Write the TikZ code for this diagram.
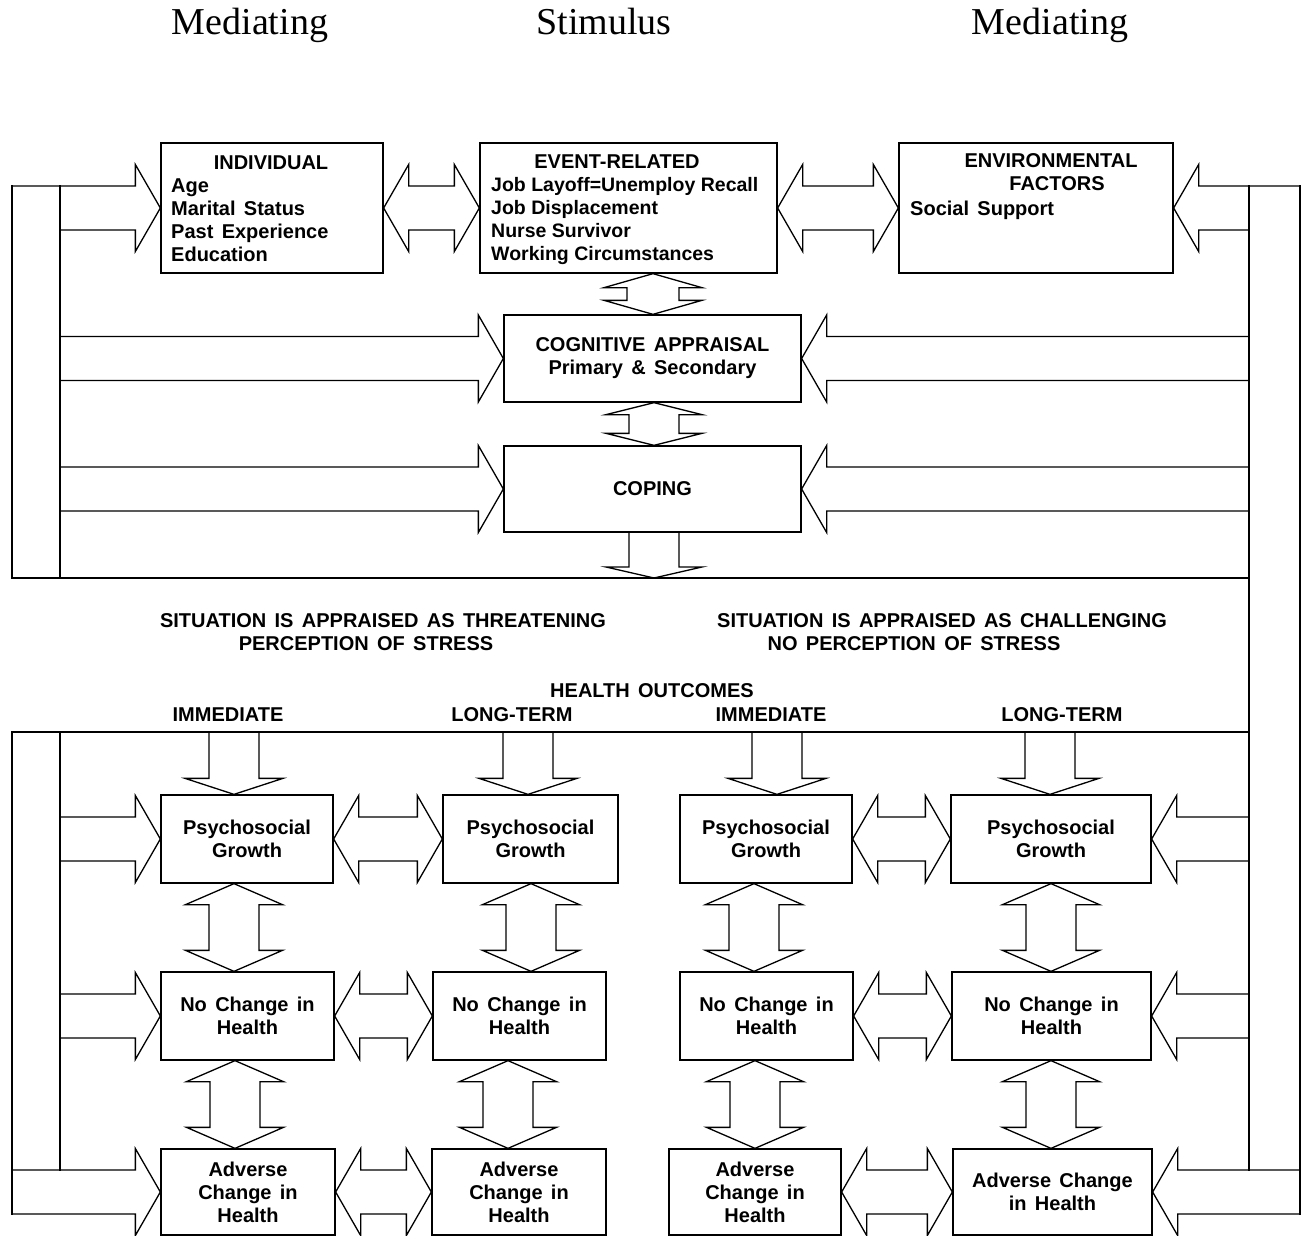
\documentclass[tikz,border=0pt]{standalone}
\usepackage{fontspec}
\setmainfont{Liberation Sans}[WordSpace=1.5]
\newfontfamily\plainsans{Liberation Sans}
\newfontfamily\titlefont{Liberation Serif}
\usetikzlibrary{calc}
\tikzset{
  box/.style={draw, line width=1.3pt, inner sep=0pt, align=center,
    font=\bfseries\fontsize{20}{23}\selectfont},
  blk/.style={draw, line width=1.3pt, line join=miter, line cap=rect},
  pipe/.style={draw, line width=1.3pt, line cap=rect},
  lbl/.style={font=\bfseries\fontsize{20}{23}\selectfont, inner sep=0pt},
  ttl/.style={font=\titlefont\fontsize{38}{40}\selectfont, inner sep=0pt},
}
% box from corners (x1,y1) to (x2,y2), image pixel coordinates
\newcommand\bx[6]{\node[box, minimum width={(#4-#2)*1pt}, minimum height={(#5-#3)*1pt}]
  (#1) at ({(#2+#4)/2},{(#3+#5)/2}) {#6};}
% horizontal double block arrow between two boxes
\newcommand\hdbl[2]{\draw[blk] let \p1=(#1.east), \p2=(#2.west) in
  (\x1,\y1) -- (\x1+25pt,\y1+43.5pt) -- (\x1+25pt,\y1+22pt) -- (\x2-25pt,\y1+22pt)
  -- (\x2-25pt,\y1+43.5pt) -- (\x2,\y1) -- (\x2-25pt,\y1-43.5pt) -- (\x2-25pt,\y1-22pt)
  -- (\x1+25pt,\y1-22pt) -- (\x1+25pt,\y1-43.5pt) -- cycle;}
% block arrow into a box from the left pipe
\newcommand\larr[3]{\draw[blk] let \p2=(#1.west) in
  (#2pt,\y2+22pt) -- (\x2-25pt,\y2+22pt) -- (\x2-25pt,\y2+43.5pt) -- (\x2,\y2)
  -- (\x2-25pt,\y2-43.5pt) -- (\x2-25pt,\y2-22pt) -- (#3pt,\y2-22pt);}
% block arrow into a box from the right pipe
\newcommand\rarr[3]{\draw[blk] let \p2=(#1.east) in
  (#2pt,\y2+22pt) -- (\x2+25pt,\y2+22pt) -- (\x2+25pt,\y2+43.5pt) -- (\x2,\y2)
  -- (\x2+25pt,\y2-43.5pt) -- (\x2+25pt,\y2-22pt) -- (#3pt,\y2-22pt);}
% vertical double block arrow between two boxes at x=#3
\newcommand\vdbl[6]{\draw[blk] let \p1=(#1.south), \p2=(#2.north) in
  (#3pt,\y1) -- (#3pt+#5pt,\y1-#6pt) -- (#3pt+#4pt,\y1-#6pt) -- (#3pt+#4pt,\y2+#6pt)
  -- (#3pt+#5pt,\y2+#6pt) -- (#3pt,\y2) -- (#3pt-#5pt,\y2+#6pt) -- (#3pt-#4pt,\y2+#6pt)
  -- (#3pt-#4pt,\y1-#6pt) -- (#3pt-#5pt,\y1-#6pt) -- cycle;}
% down block arrow from the line at y=#3 into a box at x=#2
\newcommand\darr[3]{\draw[blk] let \p2=(#1.north) in
  (#2pt-25pt,-#3pt) -- (#2pt-25pt,\y2+16pt) -- (#2pt-49pt,\y2+16pt) -- (#2pt,\y2)
  -- (#2pt+49pt,\y2+16pt) -- (#2pt+25pt,\y2+16pt) -- (#2pt+25pt,-#3pt);}
\begin{document}
\begin{tikzpicture}[x=1pt,y=-1pt]
\useasboundingbox[fill=white] (0,0) rectangle (1302,1236);

% headings
\node[ttl, anchor=base] (m1) at (250,35) {Mediating};
\node[ttl, anchor=base] (st) at (604,35) {Stimulus};
\node[ttl, anchor=base] (m2) at (1050,35) {Mediating};

% top boxes
\bx{ind}{161}{143}{383}{273}{}
\bx{evt}{480}{143}{777}{273}{}
\bx{env}{899}{143}{1173}{273}{}
\node[lbl] (indT) at (271,163) {INDIVIDUAL};
\node[lbl, anchor=west, align=left] (indL) at (171,220.5)
  {Age\\Marital Status\\Past Experience\\Education};
\node[lbl] (evtT) at (617,162) {EVENT-RELATED};
\node[lbl, anchor=west, align=left, font=\plainsans\bfseries\fontsize{19.5}{23}\selectfont]
  (evtL) at (491,221.4)
  {Job Layoff=Unemploy Recall\\Job Displacement\\Nurse Survivor\\Working Circumstances};
\node[lbl] (envT) at (1051,161) {ENVIRONMENTAL};
\node[lbl] (envF) at (1057,184) {FACTORS};
\node[lbl, anchor=west] (envL) at (910,210) {Social Support};

\bx{cog}{504}{315}{801}{402}{COGNITIVE APPRAISAL\\Primary \& Secondary}
\bx{cop}{504}{446}{801}{532}{COPING}

% pipes of the top section
\draw[pipe] (12,186) -- (12,578) -- (1249,578);
\draw[pipe] (60,186) -- (60,578);
\draw[pipe] (1249,186) -- (1249,1170);
\draw[pipe] (1300,186) -- (1300,1214);

\larr{ind}{12}{60}
\larr{cog}{60}{60}
\larr{cop}{60}{60}
\rarr{env}{1300}{1249}
\rarr{cog}{1249}{1249}
\rarr{cop}{1249}{1249}
\hdbl{ind}{evt}
\hdbl{evt}{env}
\vdbl{evt}{cog}{653}{26}{49}{14}
\vdbl{cog}{cop}{654}{25}{48}{12}
\coordinate (copend) at (654,578);
\draw[blk] let \p1=(cop.south), \p2=(copend) in
  (\x2-25pt,\y1) -- (\x2-25pt,\y2+11pt) -- (\x2-48pt,\y2+11pt) -- (\x2,\y2)
  -- (\x2+48pt,\y2+11pt) -- (\x2+25pt,\y2+11pt) -- (\x2+25pt,\y1);

% middle texts
\node[lbl] (sit1) at (383,621) {SITUATION IS APPRAISED AS THREATENING};
\node[lbl] (per1) at (366,644) {PERCEPTION OF STRESS};
\node[lbl] (sit2) at (942,621) {SITUATION IS APPRAISED AS CHALLENGING};
\node[lbl] (per2) at (914,644) {NO PERCEPTION OF STRESS};
\node[lbl] (ho) at (652,691) {HEALTH OUTCOMES};
\node[lbl] (h1) at (228,715) {IMMEDIATE};
\node[lbl] (h2) at (512,715) {LONG-TERM};
\node[lbl] (h3) at (771,715) {IMMEDIATE};
\node[lbl] (h4) at (1062,715) {LONG-TERM};

% bottom boxes
\bx{a1}{161}{795}{333}{883}{Psychosocial\\Growth}
\bx{a2}{443}{795}{618}{883}{Psychosocial\\Growth}
\bx{a3}{680}{795}{852}{883}{Psychosocial\\Growth}
\bx{a4}{951}{795}{1151}{883}{Psychosocial\\Growth}
\bx{b1}{161}{972}{334}{1060}{No Change in\\Health}
\bx{b2}{433}{972}{606}{1060}{No Change in\\Health}
\bx{b3}{680}{972}{853}{1060}{No Change in\\Health}
\bx{b4}{952}{972}{1151}{1060}{No Change in\\Health}
\bx{c1}{161}{1149}{335}{1235}{Adverse\\Change in\\Health}
\bx{c2}{432}{1149}{606}{1235}{Adverse\\Change in\\Health}
\bx{c3}{669}{1149}{841}{1235}{Adverse\\Change in\\Health}
\bx{c4}{953}{1149}{1152}{1235}{Adverse Change\\in Health}

% pipes of the bottom section
\draw[pipe] (12,732) -- (1249,732);
\draw[pipe] (12,732) -- (12,1214);
\draw[pipe] (60,732) -- (60,1170);

\darr{a1}{234}{732}
\darr{a2}{528}{732}
\darr{a3}{777}{732}
\darr{a4}{1050}{732}

\larr{a1}{60}{60}
\larr{b1}{60}{60}
\larr{c1}{12}{12}
\rarr{a4}{1249}{1249}
\rarr{b4}{1249}{1249}
\rarr{c4}{1300}{1300}

\hdbl{a1}{a2}
\hdbl{a3}{a4}
\hdbl{b1}{b2}
\hdbl{b3}{b4}
\hdbl{c1}{c2}
\hdbl{c3}{c4}

\vdbl{a1}{b1}{234}{25}{48.5}{21}
\vdbl{a2}{b2}{531}{25}{48.5}{21}
\vdbl{a3}{b3}{754}{25}{48.5}{21}
\vdbl{a4}{b4}{1051}{25}{48.5}{21}
\vdbl{b1}{c1}{235}{25}{48.5}{21}
\vdbl{b2}{c2}{508}{25}{48.5}{21}
\vdbl{b3}{c3}{755}{25}{48.5}{21}
\vdbl{b4}{c4}{1051}{25}{48.5}{21}
\end{tikzpicture}
\end{document}
